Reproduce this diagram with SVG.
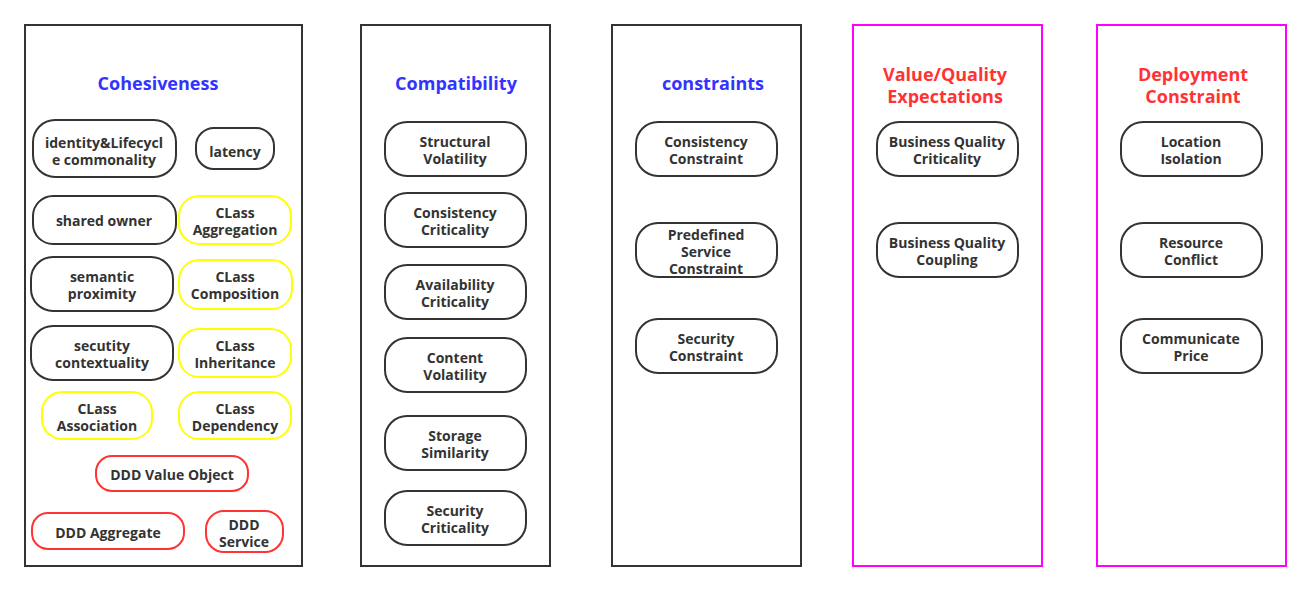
<svg xmlns="http://www.w3.org/2000/svg" width="1311" height="592" viewBox="0 0 1311 592">
<style>
.panel{fill:#fff;stroke:#333;stroke-width:2}
.panel.m{stroke:#ff00ff}
.n rect{fill:#fff;stroke:#333;stroke-width:2}
.n.y rect{stroke:#ffff00}
.n.r rect{stroke:#ff3333}
.n text{font-family:"Open Sans","Noto Sans",sans-serif;font-weight:bold;font-size:14px;fill:#333;text-anchor:middle}
.t{font-family:"Open Sans","Noto Sans",sans-serif;font-weight:bold;font-size:18px;text-anchor:middle}
.t.b{fill:#3333ff}
.t.rd{fill:#ff3333}
</style>
<rect width="1311" height="592" fill="#fff"/>
<g id="panels">
<rect class="panel" x="25" y="25" width="277" height="541"/>
<rect class="panel" x="361" y="25" width="189" height="541"/>
<rect class="panel" x="612" y="25" width="189" height="541"/>
<rect class="panel m" x="853" y="25" width="189" height="541"/>
<rect class="panel m" x="1097" y="25" width="189" height="541"/>
</g>
<g id="titles">
<text class="t b" x="158" y="90">Cohesiveness</text>
<text class="t b" x="456" y="90">Compatibility</text>
<text class="t b" x="713" y="90">constraints</text>
<text class="t rd" x="945" y="81">Value/Quality</text>
<text class="t rd" x="945" y="103">Expectations</text>
<text class="t rd" x="1193" y="81">Deployment</text>
<text class="t rd" x="1193" y="103">Constraint</text>
</g>
<g id="connectors"></g>
<g id="n1" class="n"><rect x="33" y="120" width="143" height="57" rx="22"/><text x="104" y="148">identity&amp;Lifecycl</text><text x="104" y="165">e commonality</text></g>
<g id="n2" class="n"><rect x="196" y="128" width="78" height="41" rx="18"/><text x="235" y="157">latency</text></g>
<g id="n3" class="n"><rect x="33" y="196" width="143" height="48" rx="20"/><text x="104" y="226">shared owner</text></g>
<g id="n4" class="n y"><rect x="179" y="196" width="112" height="48" rx="20"/><text x="235" y="218">CLass</text><text x="235" y="235">Aggregation</text></g>
<g id="n5" class="n"><rect x="31" y="257" width="142" height="54" rx="22"/><text x="102" y="282">semantic</text><text x="102" y="299">proximity</text></g>
<g id="n6" class="n y"><rect x="179" y="260" width="113" height="49" rx="20"/><text x="235" y="282">CLass</text><text x="235" y="299">Composition</text></g>
<g id="n7" class="n"><rect x="31" y="326" width="142" height="54" rx="22"/><text x="102" y="351">secutity</text><text x="102" y="368">contextuality</text></g>
<g id="n8" class="n y"><rect x="179" y="329" width="112" height="48" rx="20"/><text x="235" y="351">CLass</text><text x="235" y="368">Inheritance</text></g>
<g id="n9" class="n y"><rect x="42" y="392" width="110" height="47" rx="20"/><text x="97" y="414">CLass</text><text x="97" y="431">Association</text></g>
<g id="n10" class="n y"><rect x="179" y="392" width="112" height="47" rx="20"/><text x="235" y="414">CLass</text><text x="235" y="431">Dependency</text></g>
<g id="n11" class="n r"><rect x="96" y="456" width="152" height="35" rx="16"/><text x="172" y="480">DDD Value Object</text></g>
<g id="n12" class="n r"><rect x="32" y="513" width="152" height="36" rx="16"/><text x="108" y="538">DDD Aggregate</text></g>
<g id="n13" class="n r"><rect x="206" y="511" width="77" height="41" rx="18"/><text x="244" y="530">DDD</text><text x="244" y="547">Service</text></g>
<g id="c1" class="n"><rect x="385" y="122" width="141" height="54" rx="22"/><text x="455" y="147">Structural</text><text x="455" y="164">Volatility</text></g>
<g id="c2" class="n"><rect x="385" y="193" width="141" height="54" rx="22"/><text x="455" y="218">Consistency</text><text x="455" y="235">Criticality</text></g>
<g id="c3" class="n"><rect x="385" y="265" width="141" height="54" rx="22"/><text x="455" y="290">Availability</text><text x="455" y="307">Criticality</text></g>
<g id="c4" class="n"><rect x="385" y="338" width="141" height="54" rx="22"/><text x="455" y="363">Content</text><text x="455" y="380">Volatility</text></g>
<g id="c5" class="n"><rect x="385" y="416" width="141" height="54" rx="22"/><text x="455" y="441">Storage</text><text x="455" y="458">Similarity</text></g>
<g id="c6" class="n"><rect x="385" y="491" width="141" height="54" rx="22"/><text x="455" y="516">Security</text><text x="455" y="533">Criticality</text></g>
<g id="k1" class="n"><rect x="636" y="122" width="141" height="54" rx="22"/><text x="706" y="147">Consistency</text><text x="706" y="164">Constraint</text></g>
<g id="k2" class="n"><rect x="636" y="223" width="141" height="54" rx="22"/><text x="706" y="240">Predefined</text><text x="706" y="257">Service</text><text x="706" y="274">Constraint</text></g>
<g id="k3" class="n"><rect x="636" y="319" width="141" height="54" rx="22"/><text x="706" y="344">Security</text><text x="706" y="361">Constraint</text></g>
<g id="v1" class="n"><rect x="877" y="122" width="141" height="54" rx="22"/><text x="947" y="147">Business Quality</text><text x="947" y="164">Criticality</text></g>
<g id="v2" class="n"><rect x="877" y="223" width="141" height="54" rx="22"/><text x="947" y="248">Business Quality</text><text x="947" y="265">Coupling</text></g>
<g id="d1" class="n"><rect x="1121" y="122" width="141" height="54" rx="22"/><text x="1191" y="147">Location</text><text x="1191" y="164">Isolation</text></g>
<g id="d2" class="n"><rect x="1121" y="223" width="141" height="54" rx="22"/><text x="1191" y="248">Resource</text><text x="1191" y="265">Conflict</text></g>
<g id="d3" class="n"><rect x="1121" y="319" width="141" height="54" rx="22"/><text x="1191" y="344">Communicate</text><text x="1191" y="361">Price</text></g>
</svg>
